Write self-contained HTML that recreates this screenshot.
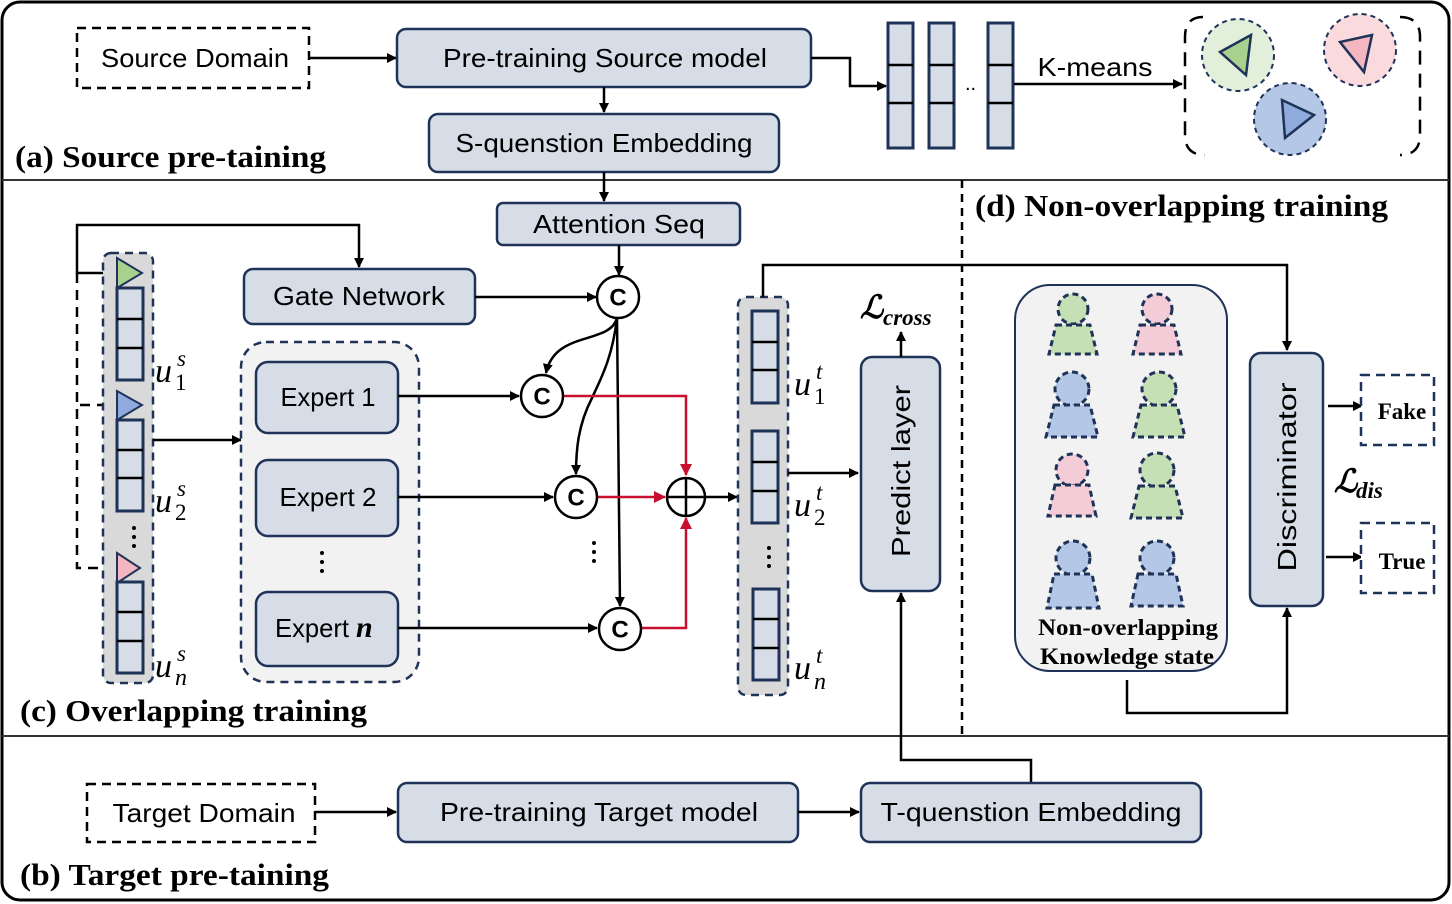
<!DOCTYPE html>
<html><head><meta charset="utf-8"><style>
html,body{margin:0;padding:0;background:#fff;}
svg{display:block;}
.n{fill:#d6dde7;stroke:#1f3358;stroke-width:2.5;}
.t{font-family:"Liberation Sans",sans-serif;font-size:26px;fill:#000;text-anchor:middle;dominant-baseline:central;}
.h{font-family:"Liberation Serif",serif;font-weight:bold;font-size:31px;fill:#000;}
.b{font-family:"Liberation Serif",serif;font-weight:bold;font-size:23px;fill:#000;text-anchor:middle;}
.m{font-family:"Liberation Serif",serif;font-style:italic;fill:#000;}
.l{stroke:#000;stroke-width:2.5;fill:none;}
.r{stroke:#c8102e;stroke-width:2.5;fill:none;}
.cell{fill:#d6dde7;stroke:#1f3358;stroke-width:3;}
.dv{stroke:#000;stroke-width:2.5;}
.cc{fill:#fff;stroke:#000;stroke-width:2.5;}
.ct{font-family:"Liberation Sans",sans-serif;font-weight:bold;font-size:24px;text-anchor:middle;dominant-baseline:central;}
.ps{stroke:#1f3358;stroke-width:3;stroke-dasharray:6 4;}
</style></head><body>
<svg width="1452" height="904" viewBox="0 0 1452 904" xmlns="http://www.w3.org/2000/svg">
<defs>
<marker id="a" markerWidth="10" markerHeight="10" refX="9" refY="5" orient="auto" markerUnits="userSpaceOnUse"><path d="M0,0 L10,5 L0,10 z" fill="#000"/></marker>
<marker id="ar" markerWidth="12" markerHeight="12" refX="11" refY="6" orient="auto" markerUnits="userSpaceOnUse"><path d="M0,0 L12,6 L0,12 z" fill="#c8102e"/></marker>
</defs>
<rect x="2" y="2" width="1447" height="898" rx="18" fill="none" stroke="#000" stroke-width="3"/>
<line x1="2" y1="180" x2="1449" y2="180" stroke="#333" stroke-width="2"/>
<line x1="2" y1="736" x2="1449" y2="736" stroke="#333" stroke-width="2"/>
<line x1="962" y1="180" x2="962" y2="736" stroke="#000" stroke-width="2.5" stroke-dasharray="8 6"/>

<!-- (a) -->
<rect x="77" y="28" width="232" height="60" fill="#fff" stroke="#000" stroke-width="2.5" stroke-dasharray="9 6"/>
<text class="t" x="195" y="58" textLength="188" lengthAdjust="spacingAndGlyphs">Source Domain</text>
<line class="l" x1="309" y1="58" x2="396" y2="58" marker-end="url(#a)"/>
<rect class="n" x="397" y="29" width="414" height="58" rx="9"/>
<text class="t" x="605" y="58" textLength="324" lengthAdjust="spacingAndGlyphs">Pre-training Source model</text>
<polyline class="l" points="811,58 850,58 850,86 886,86" marker-end="url(#a)"/>
<g>
<rect class="cell" x="888" y="23" width="25" height="125"/><line class="dv" x1="888" y1="65" x2="913" y2="65"/><line class="dv" x1="888" y1="103" x2="913" y2="103"/>
<rect class="cell" x="929" y="23" width="25" height="125"/><line class="dv" x1="929" y1="65" x2="954" y2="65"/><line class="dv" x1="929" y1="103" x2="954" y2="103"/>
<rect class="cell" x="988" y="23" width="25" height="125"/><line class="dv" x1="988" y1="65" x2="1013" y2="65"/><line class="dv" x1="988" y1="103" x2="1013" y2="103"/>
<text x="965" y="90" font-family="Liberation Sans" font-size="20">..</text>
</g>
<text class="t" x="1095" y="67" textLength="115" lengthAdjust="spacingAndGlyphs">K-means</text>
<line class="l" x1="1014" y1="84" x2="1182" y2="84" marker-end="url(#a)"/>
<path d="M1203,17 Q1185,17 1185,37 L1185,135 Q1185,155 1205,155 M1400,17 Q1420,17 1420,37 L1420,135 Q1420,155 1400,155" fill="none" stroke="#000" stroke-width="2.5" stroke-dasharray="14 9"/>
<circle cx="1238" cy="55" r="36" fill="#e2efda" stroke="#1f3358" stroke-width="2" stroke-dasharray="5 4"/>
<path d="M1251,35 L1220,52 L1246,75 Z" fill="#a9d18e" stroke="#1f3358" stroke-width="2.5"/>
<circle cx="1360" cy="50" r="36" fill="#fadadd" stroke="#1f3358" stroke-width="2" stroke-dasharray="5 4"/>
<path d="M1372,35 L1340,42 L1364,72 Z" fill="#f4b6c0" stroke="#1f3358" stroke-width="2.5"/>
<circle cx="1290" cy="119" r="36" fill="#b4c7e7" stroke="#1f3358" stroke-width="2" stroke-dasharray="5 4"/>
<path d="M1282,100 L1314,115 L1285,138 Z" fill="#8faadc" stroke="#1f3358" stroke-width="2.5"/>
<line class="l" x1="604" y1="87" x2="604" y2="112" marker-end="url(#a)"/>
<rect class="n" x="429" y="114" width="350" height="58" rx="9"/>
<text class="t" x="604" y="143" textLength="297" lengthAdjust="spacingAndGlyphs">S-quenstion Embedding</text>
<text class="h" x="15" y="167" textLength="311" lengthAdjust="spacingAndGlyphs">(a) Source pre-taining</text>

<!-- (c) -->
<line class="l" x1="604" y1="172" x2="604" y2="201" marker-end="url(#a)"/>
<rect class="n" x="497" y="203" width="243" height="42" rx="6"/>
<text class="t" x="619" y="224" textLength="172" lengthAdjust="spacingAndGlyphs">Attention Seq</text>
<line class="l" x1="619" y1="245" x2="619" y2="275" marker-end="url(#a)"/>
<rect class="n" x="244" y="269" width="231" height="55" rx="9"/>
<text class="t" x="359" y="296" textLength="172" lengthAdjust="spacingAndGlyphs">Gate Network</text>
<line class="l" x1="475" y1="297" x2="596" y2="297" marker-end="url(#a)"/>
<polyline class="l" points="115,273 77,273 77,225 359,225 359,267" marker-end="url(#a)"/>
<polyline points="77,273 77,568 115,568" fill="none" stroke="#000" stroke-width="2.5" stroke-dasharray="10 7"/>
<line x1="80" y1="405" x2="115" y2="405" stroke="#000" stroke-width="2.5" stroke-dasharray="10 7"/>

<rect x="103" y="253" width="50" height="430" rx="8" fill="#d9d9d9" stroke="#1f3358" stroke-width="2.5" stroke-dasharray="8 6"/>
<path d="M117,258 L142,273 L117,288 Z" fill="#a9d18e" stroke="#1f3358" stroke-width="2"/>
<path d="M117,391 L142,405 L117,420 Z" fill="#8faadc" stroke="#1f3358" stroke-width="2"/>
<path d="M117,553 L140,568 L117,583 Z" fill="#f4b6c0" stroke="#1f3358" stroke-width="2"/>
<rect class="cell" x="117" y="288" width="26" height="92"/><line class="dv" x1="117" y1="319" x2="143" y2="319"/><line class="dv" x1="117" y1="348" x2="143" y2="348"/>
<rect class="cell" x="117" y="420" width="26" height="91"/><line class="dv" x1="117" y1="450" x2="143" y2="450"/><line class="dv" x1="117" y1="478" x2="143" y2="478"/>
<rect class="cell" x="117" y="582" width="26" height="91"/><line class="dv" x1="117" y1="612" x2="143" y2="612"/><line class="dv" x1="117" y1="641" x2="143" y2="641"/>
<g fill="#000"><circle cx="134" cy="528" r="2"/><circle cx="134" cy="537" r="2"/><circle cx="134" cy="546" r="2"/></g>
<text class="m" x="155" y="382" font-size="34">u</text><text class="m" x="177" y="366" font-size="23">s</text><text x="175" y="390" font-size="23" font-family="Liberation Serif">1</text>
<text class="m" x="155" y="512" font-size="34">u</text><text class="m" x="177" y="496" font-size="23">s</text><text x="175" y="520" font-size="23" font-family="Liberation Serif">2</text>
<text class="m" x="155" y="677" font-size="34">u</text><text class="m" x="177" y="661" font-size="23">s</text><text class="m" x="175" y="685" font-size="24">n</text>
<line class="l" x1="153" y1="440" x2="241" y2="440" marker-end="url(#a)"/>

<rect x="241" y="342" width="178" height="340" rx="25" fill="#f2f2f2" stroke="#1f3358" stroke-width="2.5" stroke-dasharray="8 6"/>
<rect class="n" x="256" y="362" width="142" height="71" rx="12"/><text class="t" x="328" y="397" textLength="95" lengthAdjust="spacingAndGlyphs">Expert 1</text>
<rect class="n" x="256" y="460" width="142" height="76" rx="12"/><text class="t" x="328" y="497" textLength="97" lengthAdjust="spacingAndGlyphs">Expert 2</text>
<rect class="n" x="256" y="592" width="142" height="74" rx="12"/><text class="t" x="312" y="628" textLength="74" lengthAdjust="spacingAndGlyphs">Expert</text><text class="m" x="356" y="637" font-size="30" font-weight="bold">n</text>
<g fill="#000"><circle cx="322" cy="553" r="2"/><circle cx="322" cy="562" r="2"/><circle cx="322" cy="571" r="2"/></g>
<line class="l" x1="398" y1="396" x2="519" y2="396" marker-end="url(#a)"/>
<line class="l" x1="398" y1="497" x2="553" y2="497" marker-end="url(#a)"/>
<line class="l" x1="398" y1="628" x2="597" y2="628" marker-end="url(#a)"/>

<path class="l" d="M617,318 C610,345 555,330 546,373" marker-end="url(#a)"/>
<path class="l" d="M617,318 C612,360 600,380 592,398 C578,425 576,450 576,474" marker-end="url(#a)"/>
<line class="l" x1="617" y1="318" x2="620" y2="606" marker-end="url(#a)"/>
<polyline class="r" points="563,396 686,396 686,475" marker-end="url(#ar)"/>
<line class="r" x1="597" y1="497" x2="665" y2="497" marker-end="url(#ar)"/>
<polyline class="r" points="641,628 686,628 686,518" marker-end="url(#ar)"/>

<circle class="cc" cx="618" cy="297" r="21"/><text class="ct" x="618" y="298">C</text>
<circle class="cc" cx="542" cy="396" r="21"/><text class="ct" x="542" y="397">C</text>
<circle class="cc" cx="576" cy="497" r="21"/><text class="ct" x="576" y="498">C</text>
<circle class="cc" cx="620" cy="629" r="21"/><text class="ct" x="620" y="630">C</text>
<g fill="#000"><circle cx="594" cy="543" r="2"/><circle cx="594" cy="552" r="2"/><circle cx="594" cy="561" r="2"/></g>
<circle class="cc" cx="686" cy="497" r="19"/><line class="dv" x1="667" y1="497" x2="705" y2="497"/><line class="dv" x1="686" y1="478" x2="686" y2="516"/>
<line class="l" x1="705" y1="497" x2="737" y2="497" marker-end="url(#a)"/>

<rect x="738" y="297" width="50" height="398" rx="8" fill="#d9d9d9" stroke="#1f3358" stroke-width="2.5" stroke-dasharray="8 6"/>
<rect class="cell" x="752" y="311" width="26" height="92"/><line class="dv" x1="752" y1="342" x2="778" y2="342"/><line class="dv" x1="752" y1="370" x2="778" y2="370"/>
<rect class="cell" x="752" y="431" width="26" height="92"/><line class="dv" x1="752" y1="462" x2="778" y2="462"/><line class="dv" x1="752" y1="491" x2="778" y2="491"/>
<rect class="cell" x="753" y="589" width="26" height="91"/><line class="dv" x1="753" y1="619" x2="779" y2="619"/><line class="dv" x1="753" y1="648" x2="779" y2="648"/>
<g fill="#000"><circle cx="769" cy="548" r="2"/><circle cx="769" cy="557" r="2"/><circle cx="769" cy="566" r="2"/></g>
<text class="m" x="794" y="395" font-size="34">u</text><text class="m" x="816" y="379" font-size="23">t</text><text x="814" y="404" font-size="23" font-family="Liberation Serif">1</text>
<text class="m" x="794" y="516" font-size="34">u</text><text class="m" x="816" y="500" font-size="23">t</text><text x="814" y="525" font-size="23" font-family="Liberation Serif">2</text>
<text class="m" x="794" y="679" font-size="34">u</text><text class="m" x="816" y="663" font-size="23">t</text><text class="m" x="814" y="689" font-size="24">n</text>
<polyline class="l" points="763,297 763,265 1287,265 1287,350" marker-end="url(#a)"/>
<line class="l" x1="788" y1="473" x2="858" y2="473" marker-end="url(#a)"/>
<rect class="n" x="861" y="357" width="79" height="234" rx="11"/>
<text class="t" transform="translate(901,471) rotate(-90)" x="0" y="0" font-size="28" textLength="172" lengthAdjust="spacingAndGlyphs">Predict layer</text>
<line class="l" x1="901" y1="357" x2="901" y2="332" marker-end="url(#a)"/>
<text class="m" x="860" y="318" font-size="32" font-weight="bold">ℒ</text><text class="m" x="883" y="325" font-size="23" font-weight="bold">cross</text>
<polyline class="l" points="1031,783 1031,760 901,760 901,593" marker-end="url(#a)"/>
<text class="h" x="20" y="721" textLength="347" lengthAdjust="spacingAndGlyphs">(c) Overlapping training</text>

<!-- (d) -->
<text class="h" x="975" y="216" textLength="413" lengthAdjust="spacingAndGlyphs">(d) Non-overlapping training</text>
<rect x="1015" y="285" width="212" height="386" rx="35" fill="#f2f2f2" stroke="#1f3358" stroke-width="2"/>
<g>
<g transform="translate(1073,0)"><circle cx="0" cy="309" r="15" fill="#c5e0b4" class="ps"/><path d="M-17,325 L17,325 L24,354 L-24,354 Z" fill="#c5e0b4" class="ps"/></g>
<g transform="translate(1157,0)"><circle cx="0" cy="309" r="15" fill="#f4ccd8" class="ps"/><path d="M-17,325 L17,325 L24,354 L-24,354 Z" fill="#f4ccd8" class="ps"/></g>
<g transform="translate(1072,0)"><circle cx="0" cy="389" r="17" fill="#b4c7e7" class="ps"/><path d="M-18,405 L18,405 L26,437 L-26,437 Z" fill="#b4c7e7" class="ps"/></g>
<g transform="translate(1159,0)"><circle cx="0" cy="389" r="17" fill="#c5e0b4" class="ps"/><path d="M-18,405 L18,405 L26,437 L-26,437 Z" fill="#c5e0b4" class="ps"/></g>
<g transform="translate(1072,0)"><circle cx="0" cy="470" r="16" fill="#f4ccd8" class="ps"/><path d="M-17,485 L17,485 L24,516 L-24,516 Z" fill="#f4ccd8" class="ps"/></g>
<g transform="translate(1157,0)"><circle cx="0" cy="470" r="17" fill="#c5e0b4" class="ps"/><path d="M-18,486 L18,486 L26,518 L-26,518 Z" fill="#c5e0b4" class="ps"/></g>
<g transform="translate(1073,0)"><circle cx="0" cy="558" r="17" fill="#b4c7e7" class="ps"/><path d="M-19,574 L19,574 L26,608 L-26,608 Z" fill="#b4c7e7" class="ps"/></g>
<g transform="translate(1157,0)"><circle cx="0" cy="558" r="17" fill="#b4c7e7" class="ps"/><path d="M-19,574 L19,574 L26,606 L-26,606 Z" fill="#b4c7e7" class="ps"/></g>
</g>
<text class="b" x="1128" y="635" textLength="180" lengthAdjust="spacingAndGlyphs">Non-overlapping</text>
<text class="b" x="1127" y="664" textLength="174" lengthAdjust="spacingAndGlyphs">Knowledge state</text>
<polyline class="l" points="1127,680 1127,713 1287,713 1287,608" marker-end="url(#a)"/>
<rect class="n" x="1250" y="353" width="73" height="253" rx="11"/>
<text class="t" transform="translate(1287,477) rotate(-90)" x="0" y="0" font-size="28" textLength="189" lengthAdjust="spacingAndGlyphs">Discriminator</text>
<line class="l" x1="1328" y1="406" x2="1362" y2="406" marker-end="url(#a)"/>
<line class="l" x1="1326" y1="557" x2="1362" y2="557" marker-end="url(#a)"/>
<rect x="1361" y="375" width="73" height="70" fill="#fff" stroke="#1f3358" stroke-width="2.5" stroke-dasharray="9 6"/>
<text class="b" x="1402" y="419">Fake</text>
<rect x="1361" y="523" width="73" height="70" fill="#fff" stroke="#1f3358" stroke-width="2.5" stroke-dasharray="9 6"/>
<text class="b" x="1402" y="569">True</text>
<text class="m" x="1334" y="492" font-size="32" font-weight="bold">ℒ</text><text class="m" x="1356" y="498" font-size="23" font-weight="bold">dis</text>

<!-- (b) -->
<rect x="87" y="784" width="228" height="58" fill="#fff" stroke="#000" stroke-width="2.5" stroke-dasharray="9 6"/>
<text class="t" x="204" y="813" textLength="183" lengthAdjust="spacingAndGlyphs">Target Domain</text>
<line class="l" x1="315" y1="812" x2="396" y2="812" marker-end="url(#a)"/>
<rect class="n" x="398" y="783" width="400" height="59" rx="9"/>
<text class="t" x="599" y="812" textLength="318" lengthAdjust="spacingAndGlyphs">Pre-training Target model</text>
<line class="l" x1="798" y1="812" x2="859" y2="812" marker-end="url(#a)"/>
<rect class="n" x="861" y="783" width="340" height="59" rx="9"/>
<text class="t" x="1031" y="812" textLength="301" lengthAdjust="spacingAndGlyphs">T-quenstion Embedding</text>
<text class="h" x="20" y="885" textLength="309" lengthAdjust="spacingAndGlyphs">(b) Target pre-taining</text>
</svg>
</body></html>
